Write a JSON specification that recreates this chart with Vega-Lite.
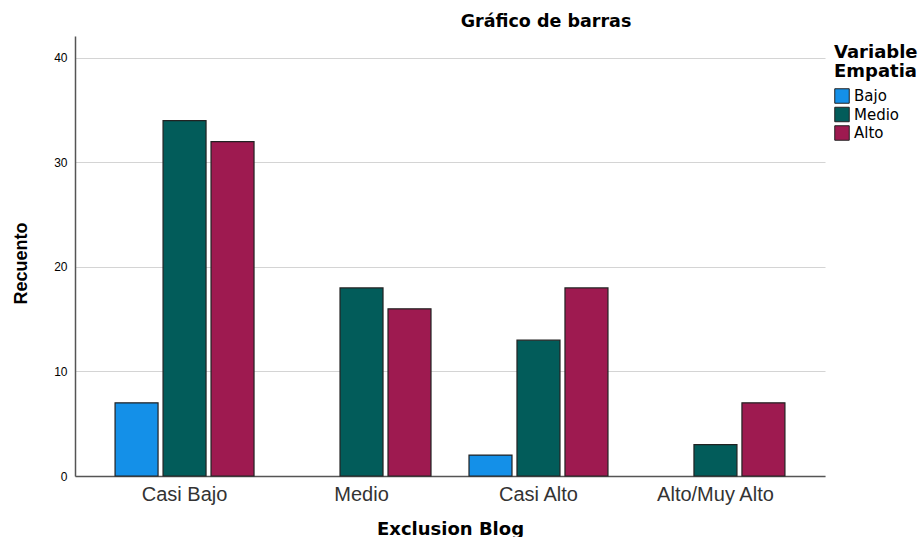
{
  "$schema": "https://vega.github.io/schema/vega-lite/v6.json",
  "autosize": "none",
  "width": 750,
  "height": 440,
  "padding": {"left": 75, "top": 36, "right": 96, "bottom": 61},
  "background": "white",
  "title": {
    "text": "Gráfico de barras",
    "font": "DejaVu Sans",
    "fontSize": 17.5,
    "fontWeight": "bold",
    "color": "#000000",
    "anchor": "middle",
    "dx": 96,
    "offset": 6
  },
  "config": {
    "view": {"stroke": null},
    "font": "Liberation Sans"
  },
  "data": {
    "values": [
      {"exclusion": "Casi Bajo", "empatia": "Bajo", "recuento": 7},
      {"exclusion": "Casi Bajo", "empatia": "Medio", "recuento": 34},
      {"exclusion": "Casi Bajo", "empatia": "Alto", "recuento": 32},
      {"exclusion": "Medio", "empatia": "Medio", "recuento": 18},
      {"exclusion": "Medio", "empatia": "Alto", "recuento": 16},
      {"exclusion": "Casi Alto", "empatia": "Bajo", "recuento": 2},
      {"exclusion": "Casi Alto", "empatia": "Medio", "recuento": 13},
      {"exclusion": "Casi Alto", "empatia": "Alto", "recuento": 18},
      {"exclusion": "Alto/Muy Alto", "empatia": "Medio", "recuento": 3},
      {"exclusion": "Alto/Muy Alto", "empatia": "Alto", "recuento": 7}
    ]
  },
  "mark": {"type": "bar", "stroke": "#222222", "strokeWidth": 1.2},
  "encoding": {
    "x": {
      "field": "exclusion",
      "type": "nominal",
      "sort": ["Casi Bajo", "Medio", "Casi Alto", "Alto/Muy Alto"],
      "scale": {"paddingInner": 0, "paddingOuter": 0.119},
      "axis": {
        "title": "Exclusion Blog",
        "titleFont": "DejaVu Sans",
        "titleFontSize": 18,
        "titleFontWeight": "bold",
        "titleColor": "#000000",
        "titleY": 53,
        "titleBaseline": "middle",
        "labelAngle": 0,
        "labelFont": "Liberation Sans",
        "labelFontSize": 20,
        "labelColor": "#333333",
        "labelPadding": 8,
        "ticks": false,
        "domainColor": "#555555",
        "domainWidth": 1.5,
        "grid": false
      }
    },
    "xOffset": {
      "field": "empatia",
      "type": "nominal",
      "scale": {"domain": ["Bajo", "Medio", "Alto"], "paddingInner": 0.104, "paddingOuter": 0.396}
    },
    "y": {
      "field": "recuento",
      "type": "quantitative",
      "scale": {"domain": [0, 42.1], "nice": false},
      "axis": {
        "title": "Recuento",
        "titleFont": "Liberation Sans",
        "titleFontSize": 18,
        "titleFontWeight": "bold",
        "titleColor": "#000000",
        "titleX": -53.5,
        "titleY": 227,
        "titleAngle": -90,
        "titleBaseline": "middle",
        "titleAlign": "center",
        "values": [0, 10, 20, 30, 40],
        "labelFont": "Liberation Sans",
        "labelFontSize": 12,
        "labelColor": "#000000",
        "labelPadding": 8,
        "ticks": false,
        "domainColor": "#555555",
        "domainWidth": 1.5,
        "gridColor": "#d4d4d4",
        "gridWidth": 1.2
      }
    },
    "color": {
      "field": "empatia",
      "type": "nominal",
      "title": ["Variable", "Empatia"],
      "scale": {"domain": ["Bajo", "Medio", "Alto"], "range": ["#1490e8", "#025c5a", "#9e1a50"]},
      "legend": {
        "orient": "none",
        "legendX": 759,
        "legendY": 8,
        "titleFont": "DejaVu Sans",
        "titleFontSize": 18,
        "titleFontWeight": "bold",
        "titleColor": "#000000",
        "titleLineHeight": 19,
        "titlePadding": 7,
        "labelFont": "DejaVu Sans",
        "labelFontSize": 15,
        "labelColor": "#000000",
        "labelOffset": 4,
        "symbolType": "square",
        "symbolSize": 210,
        "symbolStrokeColor": "#222222",
        "symbolStrokeWidth": 1,
        "symbolOpacity": 1,
        "rowPadding": -1.5
      }
    }
  }
}
